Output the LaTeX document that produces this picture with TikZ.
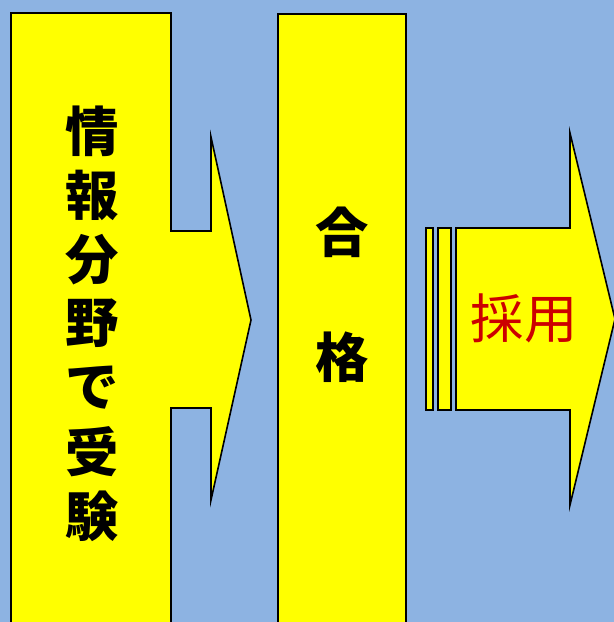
\documentclass[tikz,border=0pt]{standalone}
\usepackage{fontspec}
\newfontfamily\cjk{Noto Sans CJK JP}
\usepackage{tikz}
\usetikzlibrary{positioning}

\definecolor{bgblue}{HTML}{8DB3E2}
\definecolor{boxyellow}{HTML}{FFFF00}
\definecolor{hirered}{HTML}{CC0000}

\tikzset{
  shape box/.style={fill=boxyellow,draw=black,line width=1.2pt,line join=miter},
  big char/.style={font=\cjk\bfseries\fontsize{40}{40}\selectfont,inner sep=0pt}
}

\begin{document}
\begin{tikzpicture}[x=0.75pt,y=-0.75pt]
% background
\fill[bgblue] (0,0) rectangle (614,622);
\useasboundingbox (0,0) rectangle (614,622);
\clip (0,0) rectangle (614,622);

% exam column with arrow
\draw[shape box] (11,13) -- (171,13) -- (171,231) -- (211,231) -- (211,137)
  -- (251,320) -- (211,500) -- (211,408) -- (171,408) -- (171,640)
  -- (11,640) -- cycle;
\foreach \ch [count=\i from 0] in {情,報,分,野,で,受,験}
  \node[big char] (exam\i) at (92,{131+64.2*\i}) {\ch};

% pass column
\draw[shape box] (278,14) rectangle (406,640);
\node[big char] (pass1) at (342,232) {合};
\node[big char] (pass2) at (342,357) {格};

% hire arrow
\draw[shape box] (426,228) rectangle (433,410);
\draw[shape box] (438,228) rectangle (451,410);
\draw[shape box] (456,228) -- (570,228) -- (570,133) -- (615,319)
  -- (570,505) -- (570,410) -- (456,410) -- cycle;
\node[big char,font=\cjk\fontsize{40}{40}\selectfont,text=hirered] (hire) at (524,318) {採用};
\end{tikzpicture}
\end{document}
